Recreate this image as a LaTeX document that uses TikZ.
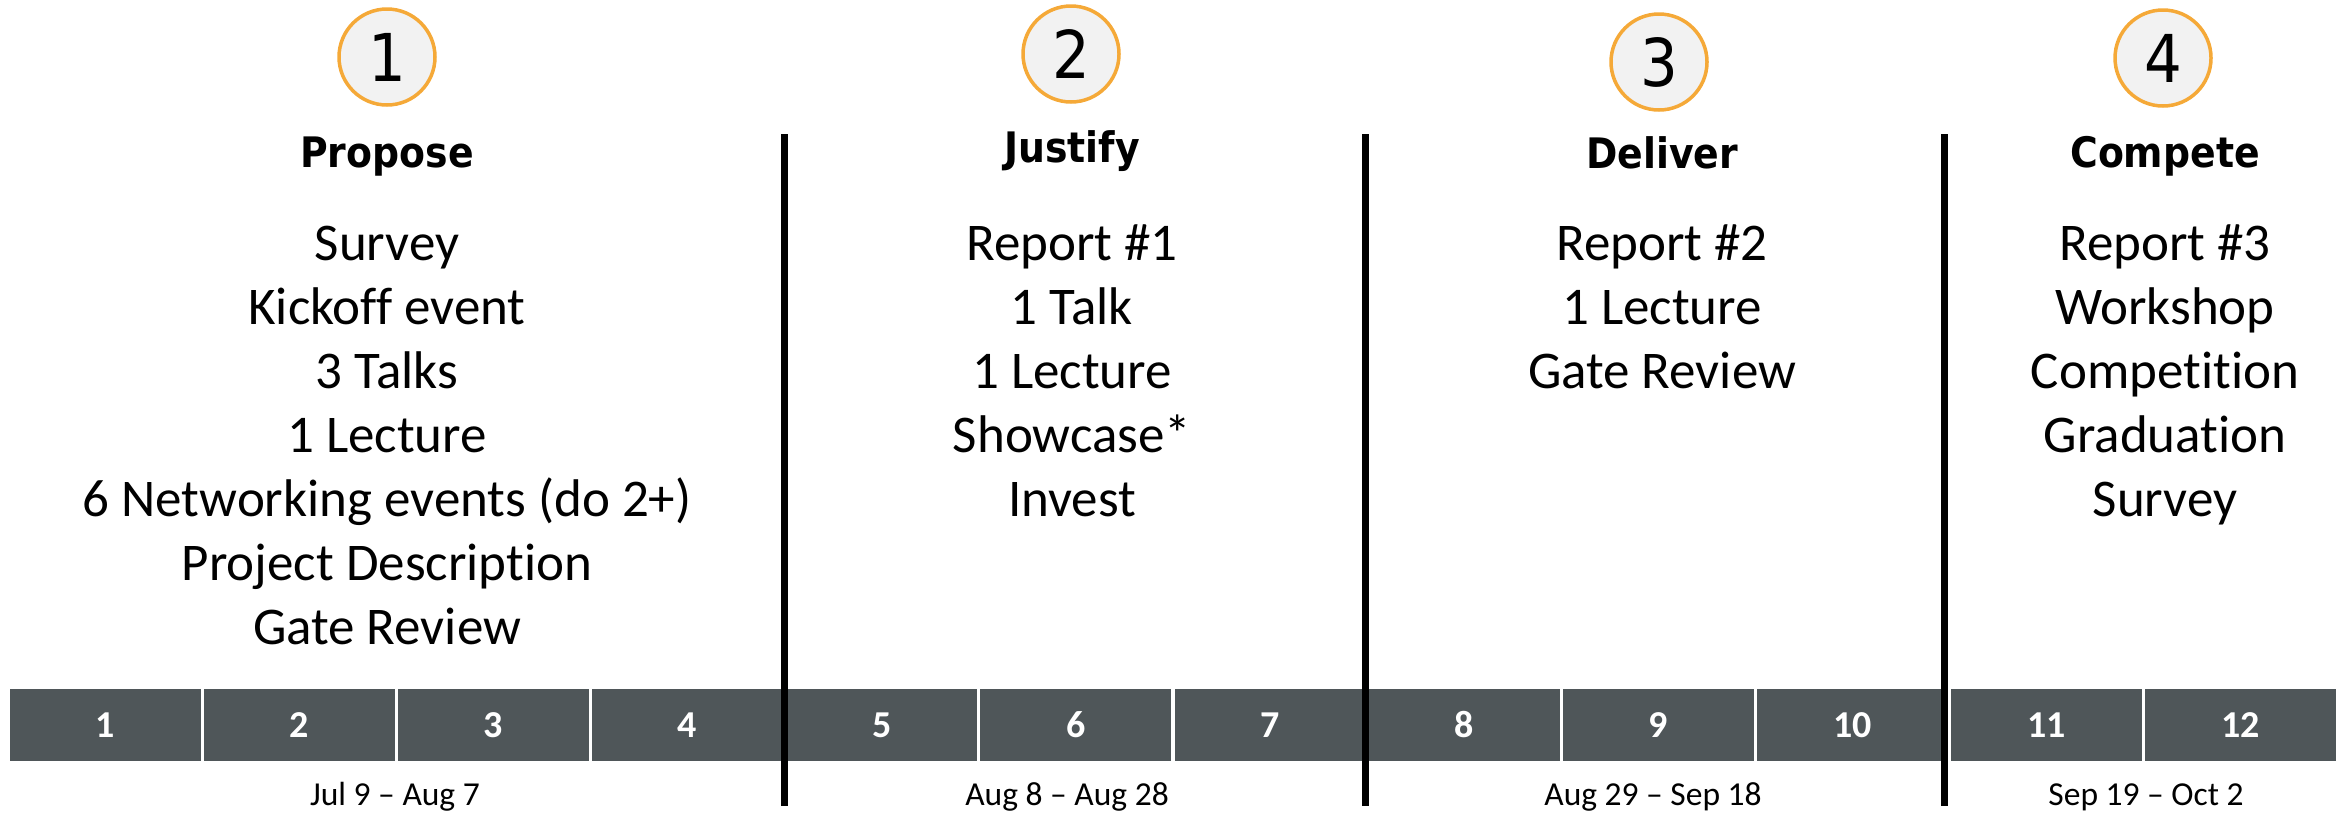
\documentclass[tikz,border=0pt]{standalone}
\usepackage{fontspec}
\setmainfont[Ligatures={TeX,NoCommon}]{Carlito}
\newfontfamily\tfont[FakeStretch=0.9]{DejaVu Sans}
\definecolor{ringorange}{RGB}{245,169,56}
\definecolor{ringfill}{RGB}{242,242,242}
\definecolor{barcol}{RGB}{79,86,89}
\tikzset{
  num/.style={circle, draw=ringorange, fill=ringfill, line width=3.5pt, minimum size=96pt, inner sep=0pt, font=\tfont\fontsize{66}{70}\selectfont},
  phase/.style={anchor=base, inner sep=0pt, font=\tfont\bfseries\fontsize{42}{50}\selectfont},
  item/.style={anchor=base, inner sep=0pt, font=\fontsize{53}{64}\selectfont},
  cell/.style={rectangle, fill=barcol, text=white, minimum width=191pt, minimum height=72pt, inner sep=0pt, font=\bfseries\fontsize{38}{44}\selectfont},
  datelbl/.style={anchor=base, inner sep=0pt, font=\fontsize{33.5}{38}\selectfont},
  divider/.style={line width=7pt, black}
}
\begin{document}
\begin{tikzpicture}[x=1pt, y=-1pt]
\useasboundingbox[fill=white] (0,0) rectangle (2341,812);
% circles
\node[num] (n1) at (387,57) {1};
\node[num] (n2) at (1071,54) {2};
\node[num] (n3) at (1659,62) {3};
\node[num] (n4) at (2163,58) {4};
% phase titles
\node[phase] (t1) at (387,167) {Propose};
\node[phase] (t2) at (1072,162) {Justify};
\node[phase] (t3) at (1662,168) {Deliver};
\node[phase] (t4) at (2165,167) {Compete};
% Propose items
\node[item] (p1) at (387,260) {Survey};
\node[item] (p2) at (387,324) {Kickoff event};
\node[item] (p3) at (387,388) {3 Talks};
\node[item] (p4) at (387,452) {1 Lecture};
\node[item] (p5) at (387,516) {6 Networking events (do 2+)};
\node[item] (p6) at (387,580) {Project Description};
\node[item] (p7) at (387,644) {Gate Review};
% Justify items
\node[item] (j1) at (1072,260) {Report \#1};
\node[item] (j2) at (1072,324) {1 Talk};
\node[item] (j3) at (1072,388) {1 Lecture};
\node[item] (j4) at (1072,452) {Showcase*};
\node[item] (j5) at (1072,516) {Invest};
% Deliver items
\node[item] (d1) at (1662,260) {Report \#2};
\node[item] (d2) at (1662,324) {1 Lecture};
\node[item] (d3) at (1662,388) {Gate Review};
% Compete items
\node[item] (c1) at (2165,260) {Report \#3};
\node[item] (c2) at (2165,324) {Workshop};
\node[item] (c3) at (2165,388) {Competition};
\node[item] (c4) at (2165,452) {Graduation};
\node[item] (c5) at (2165,516) {Survey};
% week bar
\foreach \i in {1,...,12} {
  \node[cell] (w\i) at ({8+194.17*(\i-0.5)},725) {\i};
}
% dates
\node[datelbl] (dt1) at (395,805) {Jul 9 – Aug 7};
\node[datelbl] (dt2) at (1067,805) {Aug 8 – Aug 28};
\node[datelbl] (dt3) at (1653,805) {Aug 29 – Sep 18};
\node[datelbl] (dt4) at (2146,805) {Sep 19 – Oct 2};
% dividers
\coordinate (v1a) at (784,134);  \coordinate (v1b) at (784,806);
\coordinate (v2a) at (1365,134); \coordinate (v2b) at (1365,806);
\coordinate (v3a) at (1944,134); \coordinate (v3b) at (1944,806);
\draw[divider] (v1a) -- (v1b);
\draw[divider] (v2a) -- (v2b);
\draw[divider] (v3a) -- (v3b);
\end{tikzpicture}
\end{document}
